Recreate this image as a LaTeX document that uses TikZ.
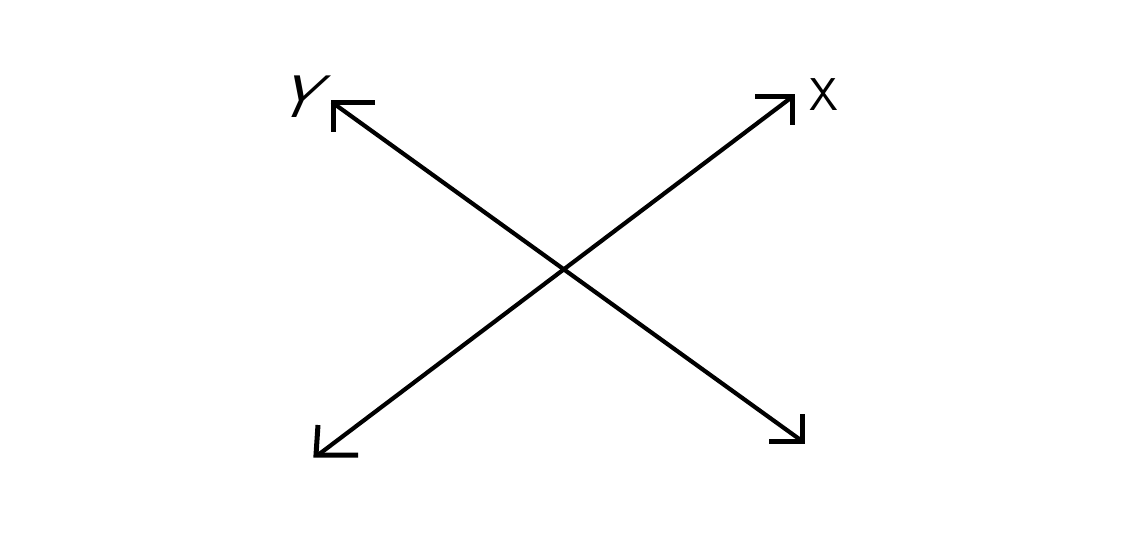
\documentclass[tikz,border=0pt]{standalone}
\begin{document}
\begin{tikzpicture}[x=1pt,y=-1pt,
  axisline/.style={line width=4.2pt, line cap=round},
  tipstroke/.style={line width=5pt},
  axislabel/.style={font=\sffamily\fontsize{46}{46}\selectfont, inner sep=0pt}]
\useasboundingbox (0,0) rectangle (1145,540);
% end points
\coordinate (xa) at (318,455);
\coordinate (xb) at (792,97);
\coordinate (ya) at (333,103);
\coordinate (yb) at (802,441);
% shafts
\draw[axisline] (xa) -- (xb);
\draw[axisline] (ya) -- (yb);
% L-shaped tips
\draw[tipstroke] ([xshift=42]ya) -- (ya) -- ([yshift=-29]ya);
\draw[tipstroke] ([xshift=-37]xb) -- (xb) -- ([yshift=-28]xb);
\draw[tipstroke] ([yshift=30]xa) -- ([xshift=-2]xa) -- ([xshift=40]xa);
\draw[tipstroke] ([xshift=-33]yb) -- (yb) -- ([yshift=27]yb);
% labels
\node[axislabel, font=\sffamily\fontsize{60}{60}\selectfont, xslant=0.45] (ylab) at (304,97) {Y};
\node[axislabel] (xlab) at (824,95) {X};
\end{tikzpicture}
\end{document}
